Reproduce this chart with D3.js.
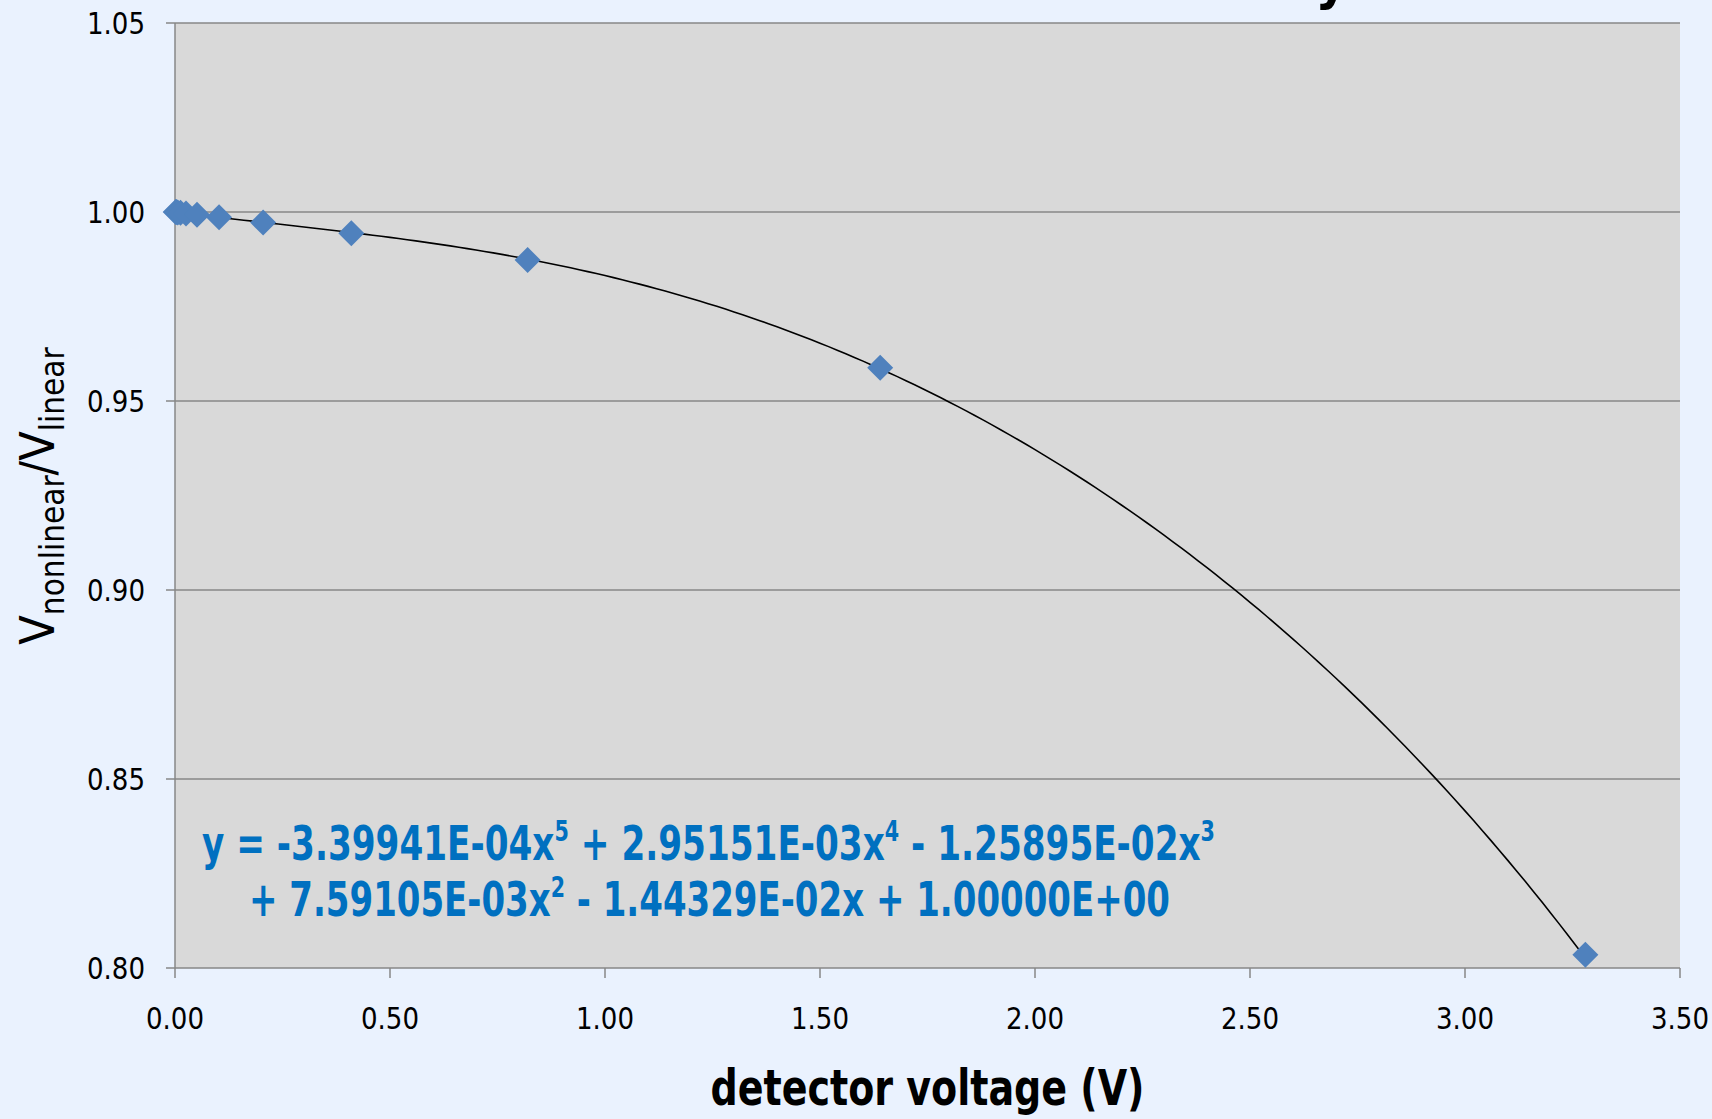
<!DOCTYPE html>
<html>
<head>
<meta charset="utf-8">
<script src="https://cdn.jsdelivr.net/npm/d3@7"></script>
<style>
  html, body { margin: 0; padding: 0; background: #eaf2fe; }
  svg { display: block; }
  text { font-family: "Liberation Sans Narrow", "DejaVu Sans Condensed", "Roboto", sans-serif; }
</style>
</head>
<body>
<div id="chart"></div>
<script>
// measured points: detector voltage (V) and Vnonlinear/Vlinear
const voltage = [0.0016, 0.0032, 0.0064, 0.0128, 0.0256, 0.0512, 0.1025, 0.205, 0.41, 0.82, 1.64, 3.28];
const ratio = [1.0, 1.0, 0.9999, 0.9998, 0.9996, 0.9993, 0.9986, 0.9972, 0.9944, 0.9873, 0.9588, 0.8035];
// trendline coefficients as printed on the chart (x^5 .. x^0)
const trendCoef = [-3.39941e-4, 2.95151e-3, -1.25895e-2, 7.59105e-3, -1.44329e-2, 1.0];
const xTicks = [0, 0.5, 1, 1.5, 2, 2.5, 3, 3.5];
const yTicks = [0.8, 0.85, 0.9, 0.95, 1.0, 1.05];

const width = 1712, height = 1119;
const margin = { left: 175, right: 32, top: 23, bottom: 151 };

const svg = d3.select('#chart').append('svg')
  .attr('width', width)
  .attr('height', height);

const x = d3.scaleLinear().domain([0, 3.5]).range([margin.left, width - margin.right]);
const y = d3.scaleLinear().domain([0.8, 1.05]).range([height - margin.bottom, margin.top]);

// title, cut off at the top: only the tail of its last letter shows
svg.append('text')
  .attr('x', 1348)
  .attr('y', -2)
  .attr('text-anchor', 'end')
  .style('font-size', '56px')
  .style('font-weight', 'bold')
  .text('Detector Nonlinearity');

// plot area
svg.append('rect')
  .attr('x', x(0))
  .attr('y', y(1.05))
  .attr('width', x(3.5) - x(0))
  .attr('height', y(0.8) - y(1.05))
  .attr('fill', '#d9d9d9');

// horizontal grid
svg.append('g')
  .selectAll('line')
  .data(yTicks)
  .enter()
  .append('line')
  .attr('x1', x(0) - 9)
  .attr('x2', x(3.5))
  .attr('y1', (d) => y(d))
  .attr('y2', (d) => y(d))
  .style('stroke', '#878787')
  .style('stroke-width', 1.5);

// axis lines
svg.append('line')
  .attr('x1', x(0)).attr('x2', x(0))
  .attr('y1', y(1.05)).attr('y2', y(0.8))
  .style('stroke', '#878787').style('stroke-width', 1.5);

svg.append('g')
  .selectAll('line')
  .data(xTicks)
  .enter()
  .append('line')
  .attr('x1', (d) => x(d))
  .attr('x2', (d) => x(d))
  .attr('y1', y(0.8))
  .attr('y2', y(0.8) + 10)
  .style('stroke', '#878787')
  .style('stroke-width', 1.5);

// tick labels
svg.append('g')
  .selectAll('text')
  .data(yTicks)
  .enter()
  .append('text')
  .attr('x', x(0) - 30)
  .attr('y', (d) => y(d) + 11)
  .attr('text-anchor', 'end')
  .attr('textLength', 58)
  .attr('lengthAdjust', 'spacingAndGlyphs')
  .style('font-size', '31px')
  .text((d) => d.toFixed(2));

svg.append('g')
  .selectAll('text')
  .data(xTicks)
  .enter()
  .append('text')
  .attr('x', (d) => x(d))
  .attr('y', y(0.8) + 61)
  .attr('text-anchor', 'middle')
  .attr('textLength', 58)
  .attr('lengthAdjust', 'spacingAndGlyphs')
  .style('font-size', '31px')
  .text((d) => d.toFixed(2));

// axis titles
svg.append('text')
  .attr('x', (x(0) + x(3.5)) / 2)
  .attr('y', 1105)
  .attr('text-anchor', 'middle')
  .attr('textLength', 434)
  .attr('lengthAdjust', 'spacingAndGlyphs')
  .style('font-size', '50px')
  .style('font-weight', 'bold')
  .text('detector voltage (V)');

const yt = svg.append('text')
  .attr('transform', 'translate(54,' + 496 + ') rotate(-90)')
  .attr('text-anchor', 'middle')
  .style('font-size', '48px');
yt.append('tspan').text('V');
yt.append('tspan').attr('dy', 10).style('font-size', '33px').text('nonlinear');
yt.append('tspan').attr('dy', -10).text('/V');
yt.append('tspan').attr('dy', 10).style('font-size', '33px').text('linear');

// trendline from the printed polynomial
const poly = (v) => trendCoef.reduce((acc, c) => acc * v + c, 0);
const trendX = d3.range(0, 3.2801, 0.02);
svg.append('path')
  .datum(trendX)
  .attr('fill', 'none')
  .attr('stroke', '#000')
  .attr('stroke-width', 1.6)
  .attr('d', d3.line().x((d) => x(d)).y((d) => y(poly(d))));

// diamond markers
const r = 13;
svg.append('g')
  .selectAll('path')
  .data(voltage)
  .enter()
  .append('path')
  .attr('d', (d, i) => {
    const cx = x(d), cy = y(ratio[i]);
    return `M${cx},${cy - r}L${cx + r},${cy}L${cx},${cy + r}L${cx - r},${cy}Z`;
  })
  .attr('fill', '#4f81bd');

// equation label
const eq = [
  { x: 202, y: 860, w: 1013, parts: [['y = -3.39941E-04x', 0], ['5', 1], [' + 2.95151E-03x', 0], ['4', 1], [' - 1.25895E-02x', 0], ['3', 1]] },
  { x: 249, y: 916, w: 921, parts: [['+ 7.59105E-03x', 0], ['2', 1], [' - 1.44329E-02x + 1.00000E+00', 0]] },
];
eq.forEach((line) => {
  const t = svg.append('text')
    .attr('x', line.x)
    .attr('y', line.y)
    .attr('textLength', line.w)
    .attr('lengthAdjust', 'spacingAndGlyphs')
    .attr('fill', '#0070c0')
    .style('font-size', '48px')
    .style('font-weight', 'bold');
  let up = false;
  line.parts.forEach(([s, sup]) => {
    const ts = t.append('tspan').text(s);
    if (sup) { ts.attr('dy', up ? 0 : -19).style('font-size', '29px'); up = true; }
    else if (up) { ts.attr('dy', 19); up = false; }
  });
});
</script>
</body>
</html>
